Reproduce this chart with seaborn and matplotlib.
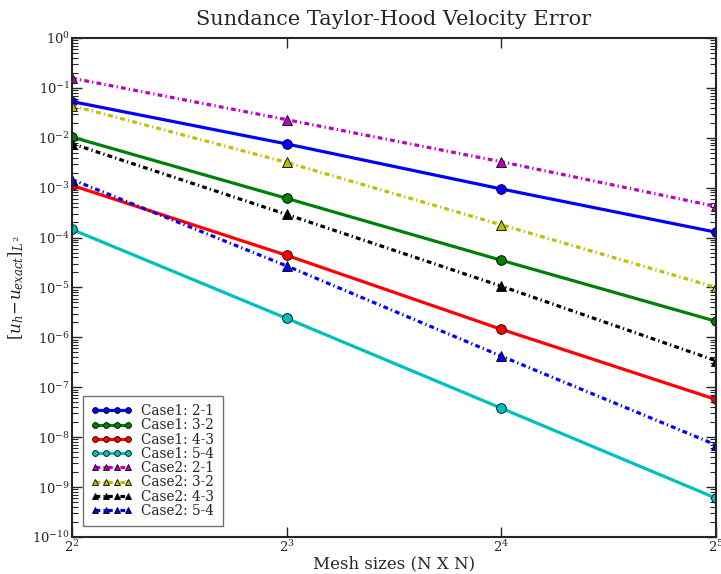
import numpy as np
import pandas as pd
import matplotlib
matplotlib.use("Agg")
import matplotlib.pyplot as plt
from matplotlib.ticker import LogLocator, LogFormatterSciNotation, NullFormatter
import seaborn as sns

# Mesh sizes N (N x N meshes)
mesh_sizes = [4, 8, 16, 32]

# L2 velocity errors, Case 1 (solid lines, circles)
case1_21 = [5.3e-2, 7.5e-3, 9.4e-4, 1.28e-4]
case1_32 = [1.03e-2, 6.1e-4, 3.5e-5, 2.1e-6]
case1_43 = [1.11e-3, 4.4e-5, 1.45e-6, 5.7e-8]
case1_54 = [1.45e-4, 2.4e-6, 3.8e-8, 6.0e-10]

# L2 velocity errors, Case 2 (dash-dot lines, triangles)
case2_21 = [1.56e-1, 2.3e-2, 3.3e-3, 4.2e-4]
case2_32 = [4.4e-2, 3.2e-3, 1.8e-4, 1.0e-5]
case2_43 = [7.6e-3, 2.9e-4, 1.06e-5, 3.4e-7]
case2_54 = [1.45e-3, 2.7e-5, 4.2e-7, 7.0e-9]

series_labels = ["Case1: 2-1", "Case1: 3-2", "Case1: 4-3", "Case1: 5-4",
                 "Case2: 2-1", "Case2: 3-2", "Case2: 4-3", "Case2: 5-4"]
series_values = [case1_21, case1_32, case1_43, case1_54,
                 case2_21, case2_32, case2_43, case2_54]
series_colors = ["b", "g", "r", "c", "m", "y", "k", "b"]

title_text = "Sundance Taylor-Hood Velocity Error"
xlabel_text = "Mesh sizes (N X N)"
ylabel_text = r"$[u_h\!-\!u_{exact}]_{L^2}$"

sns.set_style("ticks")
plt.rcParams["font.family"] = ["DejaVu Serif", "DejaVu Sans"]
plt.rcParams["mathtext.fontset"] = "dejavuserif"
plt.rcParams["xtick.direction"] = "in"
plt.rcParams["ytick.direction"] = "in"
plt.rcParams["xtick.top"] = True
plt.rcParams["ytick.right"] = True

fig = plt.figure(figsize=(7.21, 5.74), dpi=100)
ax = fig.add_axes([0.0999, 0.0645, 0.8931, 0.8695])

for lab, vals, col in zip(series_labels, series_values, series_colors):
    case1 = lab.startswith("Case1")
    sns.lineplot(x=mesh_sizes, y=vals, ax=ax, color=col,
                 marker="o" if case1 else "^",
                 linestyle="-" if case1 else (0, (1.5, 1.0, 0.4, 1.0)),
                 lw=2.3, ms=7, mec="k", mew=0.6, label=lab)

ax.set_xscale("log", base=2)
ax.set_yscale("log")
ax.set_xlim(4, 32)
ax.set_ylim(1e-10, 1e0)
ax.xaxis.set_major_locator(LogLocator(base=2))
ax.xaxis.set_major_formatter(LogFormatterSciNotation(base=2))
ax.xaxis.set_minor_locator(plt.NullLocator())
ax.yaxis.set_major_locator(LogLocator(base=10, numticks=20))
ax.yaxis.set_minor_locator(LogLocator(base=10, subs=np.arange(2, 10), numticks=20))
ax.yaxis.set_minor_formatter(NullFormatter())

for s in ax.spines.values():
    s.set_linewidth(1.5)
ax.tick_params(which="major", length=7, width=1, labelsize=9.5, pad=1.5)
ax.tick_params(which="minor", length=4, width=0.8)

ax.set_title(title_text, fontsize=15, pad=9)
ax.set_xlabel(xlabel_text, fontsize=12, labelpad=0)
ax.set_ylabel(ylabel_text, fontsize=12, labelpad=4)

leg = ax.legend(loc="lower left", numpoints=4, markerscale=0.6, fontsize=9.8,
                handlelength=3.0, labelspacing=0.02, frameon=True, fancybox=False,
                borderaxespad=0.8, handletextpad=0.7, borderpad=0.6)
leg.get_frame().set_edgecolor("0.3")
leg.get_frame().set_linewidth(1.0)

fig.savefig("out.png", dpi=100)
